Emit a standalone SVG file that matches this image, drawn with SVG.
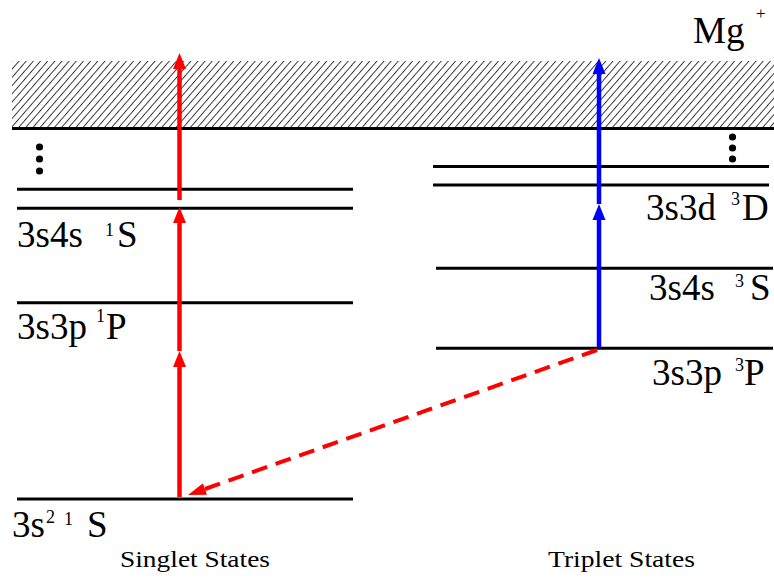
<svg xmlns="http://www.w3.org/2000/svg" width="774" height="581" viewBox="0 0 774 581">
<style>
.lvl{stroke:#000;stroke-width:3;fill:none}
.lbl{font-family:"Liberation Serif","Times New Roman",serif;font-size:37px;fill:#000}
.sup{font-size:18px}
.cap{font-family:"Liberation Serif","Times New Roman",serif;font-size:24px;fill:#000}
.red{stroke:#ff0000;stroke-width:4.5;fill:none}
.blue{stroke:#0000ff;stroke-width:4.5;fill:none}
.dash{stroke:#ff0000;stroke-width:4;fill:none;stroke-dasharray:16 9}
</style>
<defs>
<pattern id="hatch" patternUnits="userSpaceOnUse" width="5.4" height="10" patternTransform="rotate(41)">
<line x1="0.5" y1="0" x2="0.5" y2="10" stroke="#000" stroke-width="0.8"/>
</pattern>
<marker id="hr" markerUnits="userSpaceOnUse" markerWidth="20" markerHeight="16" refX="0" refY="8" orient="auto" viewBox="0 0 20 16">
<path d="M0,1.5 L16,8 L0,14.5 z" fill="#ff0000"/>
</marker>
<marker id="hb" markerUnits="userSpaceOnUse" markerWidth="20" markerHeight="16" refX="0" refY="8" orient="auto" viewBox="0 0 20 16">
<path d="M0,1.5 L16,8 L0,14.5 z" fill="#0000ff"/>
</marker>
<marker id="hd" markerUnits="userSpaceOnUse" markerWidth="20" markerHeight="16" refX="0" refY="8" orient="auto" viewBox="0 0 20 16">
<path d="M0,2 L18,8 L0,14 z" fill="#ff0000"/>
</marker>
</defs>

<g id="continuum">
<rect x="12" y="61" width="762" height="67" fill="url(#hatch)"/>
<line class="lvl" x1="12" y1="128.5" x2="774" y2="128.5" stroke-width="3.5"/>
<text class="lbl" x="693" y="43">Mg</text>
<text class="lbl" x="756" y="19" style="font-size:17px">+</text>
</g>

<g id="singlet-dots">
<circle cx="39.5" cy="147" r="3.6"/>
<circle cx="39.5" cy="159" r="3.6"/>
<circle cx="39.5" cy="171" r="3.6"/>
</g>
<g id="triplet-dots">
<circle cx="732.5" cy="137" r="3.6"/>
<circle cx="732.5" cy="148" r="3.6"/>
<circle cx="732.5" cy="159" r="3.6"/>
</g>

<g id="singlet-high">
<line class="lvl" x1="17" y1="189.3" x2="353" y2="189.3"/>
</g>
<g id="s-3s4s-1S">
<line class="lvl" x1="17" y1="208.3" x2="353" y2="208.3"/>
<text class="lbl" x="17" y="247">3s4s <tspan class="sup" x="105" y="236">1</tspan><tspan x="117" y="247">S</tspan></text>
</g>
<g id="s-3s3p-1P">
<line class="lvl" x1="17" y1="302.7" x2="353" y2="302.7"/>
<text class="lbl" x="17" y="339">3s3p <tspan class="sup" x="96" y="322">1</tspan><tspan x="106" y="339">P</tspan></text>
</g>
<g id="s-3s2-1S">
<line class="lvl" x1="17" y1="499" x2="353" y2="499"/>
<text class="lbl" x="12" y="537">3s<tspan class="sup" x="46" y="523">2</tspan><tspan class="sup" x="64" y="525">1</tspan><tspan x="87" y="537">S</tspan></text>
</g>

<g id="triplet-high">
<line class="lvl" x1="433" y1="166.5" x2="769" y2="166.5"/>
</g>
<g id="t-3s3d-3D">
<line class="lvl" x1="433" y1="185" x2="769" y2="185"/>
<text class="lbl" x="646" y="220">3s3d <tspan class="sup" x="731" y="205">3</tspan><tspan x="742" y="220">D</tspan></text>
</g>
<g id="t-3s4s-3S">
<line class="lvl" x1="436" y1="268.3" x2="773" y2="268.3"/>
<text class="lbl" x="649" y="300">3s4s <tspan class="sup" x="735" y="287">3</tspan><tspan x="750" y="300">S</tspan></text>
</g>
<g id="t-3s3p-3P">
<line class="lvl" x1="436" y1="348.3" x2="773" y2="348.3"/>
<text class="lbl" x="652" y="385">3s3p <tspan class="sup" x="735" y="371">3</tspan><tspan x="744" y="385">P</tspan></text>
</g>

<g id="captions">
<text class="cap" x="120" y="567" textLength="150" lengthAdjust="spacingAndGlyphs">Singlet States</text>
<text class="cap" x="548" y="567" textLength="147" lengthAdjust="spacingAndGlyphs">Triplet States</text>
</g>

<g id="connectors">
<line class="red" x1="179.5" y1="497" x2="179.5" y2="367" marker-end="url(#hr)"/>
<line class="red" x1="179.5" y1="351" x2="179.5" y2="223" marker-end="url(#hr)"/>
<line class="red" x1="179.5" y1="200" x2="179.5" y2="69" marker-end="url(#hr)"/>
<line class="blue" x1="599" y1="348" x2="599" y2="220" marker-end="url(#hb)"/>
<line class="blue" x1="599" y1="204" x2="599" y2="74" marker-end="url(#hb)"/>
<line class="dash" x1="597" y1="350" x2="205" y2="489" marker-end="url(#hd)"/>
</g>
</svg>
